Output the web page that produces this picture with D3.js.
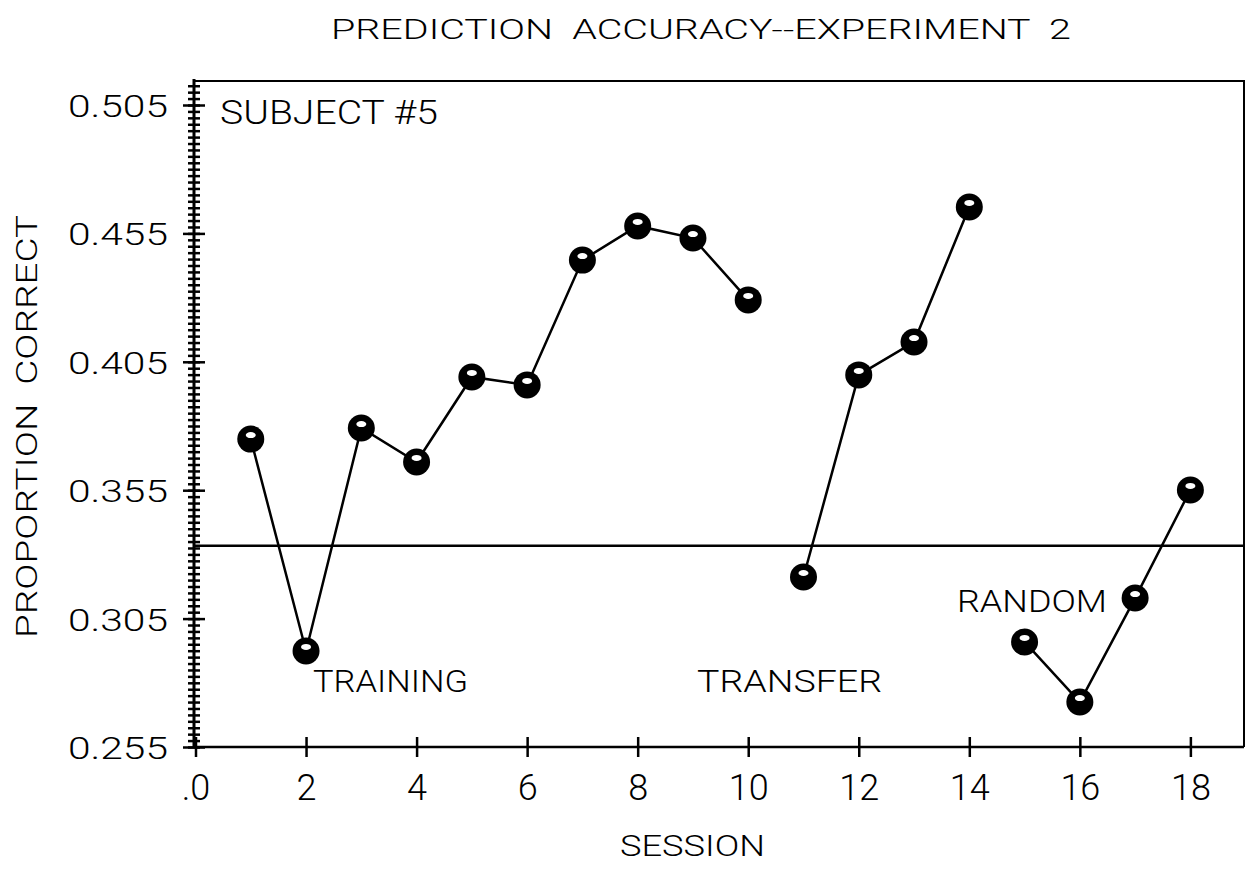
<!DOCTYPE html>
<html>
<head>
<meta charset="utf-8">
<script src="https://cdn.jsdelivr.net/npm/d3@7"></script>
<style>
  html, body { margin: 0; padding: 0; background: #fff; }
  svg text { font-family: Roboto, "Liberation Sans", sans-serif; font-weight: 300; fill: #000; white-space: pre; }
</style>
</head>
<body>
<svg id="chart" width="1247" height="874"></svg>
<script>
// Session numbers and proportion of correct predictions, one array per phase
const trainingSessions = [1, 2, 3, 4, 5, 6, 7, 8, 9, 10];
const trainingValues = [0.3749, 0.2924, 0.3792, 0.3660, 0.3991, 0.3960, 0.4446, 0.4579, 0.4532, 0.4291];
const transferSessions = [11, 12, 13, 14];
const transferValues = [0.3212, 0.3999, 0.4127, 0.4653];
const randomSessions = [15, 16, 17, 18];
const randomValues = [0.2959, 0.2725, 0.3130, 0.3551];
const chanceLevel = 1 / 3;

const xTicks = [0, 2, 4, 6, 8, 10, 12, 14, 16, 18];
const xTickLabels = [".0", "2", "4", "6", "8", "10", "12", "14", "16", "18"];
const yTicks = [0.255, 0.305, 0.355, 0.405, 0.455, 0.505];
const yTickLabels = ["0.255", "0.305", "0.355", "0.405", "0.455", "0.505"];

const svg = d3.select("#chart");
const plotLeft = 194, plotRight = 1244, plotTop = 81, plotBottom = 747;

const x = d3.scaleLinear().domain([0, 18.97]).range([195.5, 1244]);
const y = d3.scaleLinear().domain([0.255, 0.505]).range([747, 105]);
const yTop = y.invert(plotTop);

// frame (top and right edges)
svg.append("path")
  .attr("d", `M${plotLeft},${plotTop}H${plotRight}V${plotBottom}`)
  .attr("fill", "none").attr("stroke", "#000").attr("stroke-width", 2);

// x axis
const xAxis = svg.append("g")
  .attr("transform", `translate(0,${plotBottom})`)
  .call(d3.axisBottom(x).tickValues(xTicks).tickSize(0).tickFormat((d, i) => xTickLabels[i]));
xAxis.select(".domain").attr("d", `M${plotLeft},0H${plotRight}`).attr("stroke-width", 2.5);
xAxis.selectAll(".tick line").attr("y1", -10).attr("y2", 10).attr("stroke-width", 2.5);
xAxis.selectAll(".tick text")
  .attr("y", 53).attr("dy", null)
  .style("font-size", "36px");

// y axis: minor ticks every 0.0025
const minor = d3.range(0, Math.floor((yTop - 0.255) / 0.0025 + 1e-6) + 1).map(i => 0.255 + i * 0.0025);
const yMinor = svg.append("g")
  .attr("transform", `translate(${plotLeft},0)`)
  .call(d3.axisLeft(y).tickValues(minor).tickSize(0).tickFormat(""));
yMinor.select(".domain").remove();
yMinor.selectAll(".tick line").attr("x1", -6).attr("x2", 6).attr("stroke-width", 2.5);

const yAxis = svg.append("g")
  .attr("transform", `translate(${plotLeft},0)`)
  .call(d3.axisLeft(y).tickValues(yTicks).tickSize(0).tickFormat((d, i) => yTickLabels[i]));
yAxis.select(".domain").attr("d", `M0,${plotTop - 2}V${plotBottom}`).attr("stroke-width", 3);
yAxis.selectAll(".tick line").attr("x1", -11).attr("x2", 11).attr("stroke-width", 2.5);
yAxis.selectAll(".tick text")
  .attr("x", -26).attr("dy", "0.36em")
  .style("font-size", "32px")
  .attr("textLength", 100).attr("lengthAdjust", "spacingAndGlyphs");

// chance level
svg.append("line")
  .attr("x1", plotLeft).attr("x2", plotRight)
  .attr("y1", y(chanceLevel)).attr("y2", y(chanceLevel))
  .attr("stroke", "#000").attr("stroke-width", 2.5);

// series
const line = d3.line().x(d => x(d[0])).y(d => y(d[1]));
const phases = [
  d3.zip(trainingSessions, trainingValues),
  d3.zip(transferSessions, transferValues),
  d3.zip(randomSessions, randomValues)
];
svg.selectAll("path.series").data(phases).join("path")
  .attr("class", "series")
  .attr("d", line)
  .attr("fill", "none").attr("stroke", "#000").attr("stroke-width", 2.5);

const pts = phases.flat();
const marker = svg.selectAll("g.marker").data(pts).join("g")
  .attr("class", "marker")
  .attr("transform", d => `translate(${x(d[0])},${y(d[1])})`);
marker.append("circle").attr("r", 13.5).attr("fill", "#000");
marker.append("ellipse").attr("cx", 0).attr("cy", -4).attr("rx", 5).attr("ry", 3).attr("fill", "#fff");

// text annotations
const label = (t, xx, yy, size, len, anchor = "start") =>
  svg.append("text").attr("x", xx).attr("y", yy).attr("text-anchor", anchor)
    .style("font-size", size + "px")
    .attr("textLength", len).attr("lengthAdjust", "spacingAndGlyphs")
    .text(t);

label("PREDICTION  ACCURACY--EXPERIMENT  2", 331, 39, 27, 740);
label("SUBJECT #5", 220, 124, 34, 218);
label("TRAINING", 313, 692, 32, 155);
label("TRANSFER", 697, 692, 32, 185);
label("RANDOM", 957, 612, 32, 150);
label("SESSION", 620, 856, 30, 145);

svg.append("text")
  .attr("transform", "translate(37,638) rotate(-90)")
  .style("font-size", "29px")
  .attr("textLength", 423).attr("lengthAdjust", "spacingAndGlyphs")
  .text("PROPORTION  CORRECT");
</script>
</body>
</html>
